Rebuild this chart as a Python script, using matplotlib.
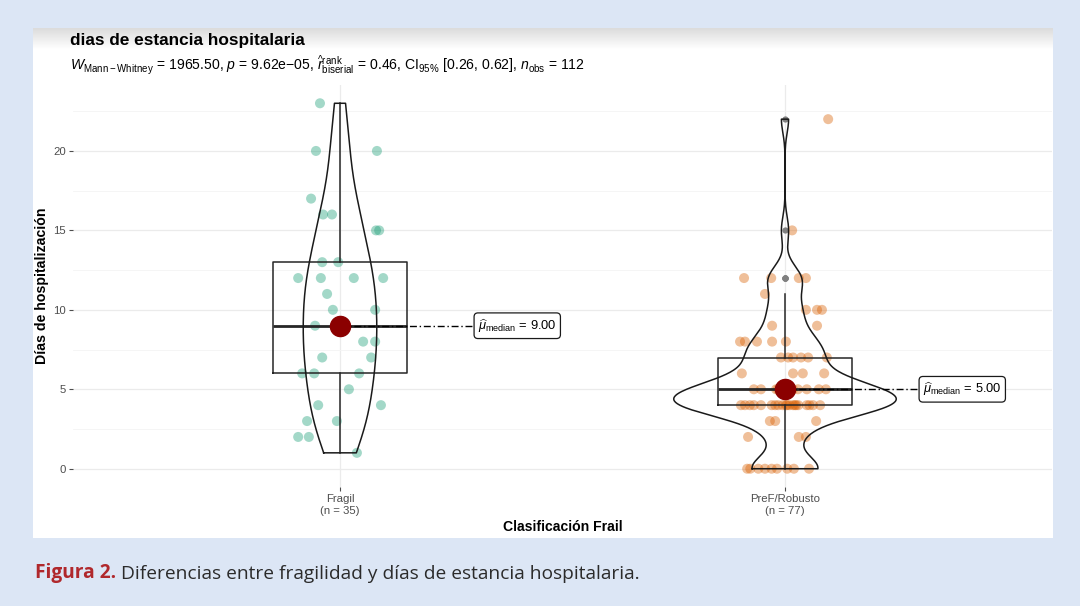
import numpy as np
import matplotlib.pyplot as plt

plt.rcParams['font.family'] = ['Liberation Sans', 'DejaVu Sans']
plt.rcParams['mathtext.fontset'] = 'custom'
plt.rcParams['mathtext.rm'] = 'Liberation Sans'
plt.rcParams['mathtext.it'] = 'Liberation Sans:italic'
plt.rcParams['mathtext.bf'] = 'Liberation Sans:bold'

# datos
grupos = ['Fragil', 'PreF/Robusto']
etiquetas_x = ['Fragil\n(n = 35)', 'PreF/Robusto\n(n = 77)']

fragil_dias = [23, 20, 20, 17, 16, 16, 15, 15, 13, 13, 12, 12, 12, 12, 11,
               10, 10, 9, 9, 9, 8, 8, 7, 7, 6, 6, 6, 5, 4, 4, 3, 3, 2, 2, 1]
fragil_jitter = [-0.045, -0.054, 0.083, -0.065, -0.038, -0.018, 0.081, 0.088,
                 -0.040, -0.004, -0.094, -0.043, 0.031, 0.097, -0.029,
                 -0.016, 0.079, -0.056, 0.0, 0.01, 0.052, 0.079, -0.040, 0.070,
                 -0.085, -0.058, 0.043, 0.020, -0.049, 0.092, -0.074, -0.007,
                 -0.094, -0.070, 0.038]

robusto_dias = ([22, 15] + [12] * 4 + [11] + [10] * 3 + [9] * 2 + [8] * 5
                + [7] * 6 + [6] * 4 + [5] * 15 + [4] * 20 + [3] * 3 + [2] * 3
                + [0] * 9)
robusto_jitter = [0.097, 0.016,
                  -0.092, -0.031, 0.031, 0.047,
                  -0.045,
                  0.047, 0.072, 0.083,
                  -0.029, 0.072,
                  -0.101, -0.090, -0.063, -0.029, 0.002,
                  -0.009, 0.007, 0.018, 0.036, 0.052, 0.094,
                  -0.097, 0.018, 0.040, 0.088,
                  -0.070, -0.054, 0.029, 0.049, 0.076, 0.092, -0.020, -0.012,
                  -0.005, 0.0, 0.006, 0.012, 0.018, -0.016, 0.003,
                  -0.099, -0.079, -0.054, -0.022, 0.002, 0.018, 0.022, 0.049,
                  0.063, 0.079, -0.090, -0.070, -0.030, -0.015,
                  -0.005, 0.005, 0.010, 0.025, 0.030, 0.055,
                  -0.034, -0.022, 0.070,
                  -0.083, 0.031, 0.047,
                  -0.085, -0.078, -0.060, -0.045, -0.030, -0.018, 0.005,
                  0.020, 0.054]

datos = [np.array(fragil_dias, float), np.array(robusto_dias, float)]
jitters = [np.array(fragil_jitter), np.array(robusto_jitter)]
colores = ['#1B9E77', '#D95F02']

subtitulo = (r'$W_{\mathrm{Mann-Whitney}}$ = 1965.50, $p$ = 9.62e$-$05, '
             r'$\widehat{r}_{\mathrm{biserial}}^{\mathrm{rank}}$ = 0.46, '
             r'CI$_{95\%}$ [0.26, 0.62], $n_{\mathrm{obs}}$ = 112')


def kde_nrd0(x, grid):
    # densidad gaussiana con el ancho de banda de R (bw.nrd0)
    q75, q25 = np.percentile(x, [75, 25])
    bw = 0.9 * min(x.std(ddof=1), (q75 - q25) / 1.34) * len(x) ** -0.2
    z = (grid[:, None] - x[None, :]) / bw
    return np.exp(-0.5 * z ** 2).sum(axis=1) / (len(x) * bw * np.sqrt(2 * np.pi))


fig = plt.figure(figsize=(10.8, 6.06), dpi=100)
fig.patch.set_facecolor('#dce6f5')

# panel blanco con sombra arriba
bg = fig.add_axes([33 / 1080, 68 / 606, 1020 / 1080, 510 / 606])
grad = np.ones((510, 1))
grad[:22, 0] = np.linspace(0.86, 1.0, 22)
bg.imshow(grad, aspect='auto', cmap='gray', vmin=0, vmax=1,
          extent=[0, 1, 0, 1], interpolation='bilinear')
bg.axis('off')

ax = fig.add_axes([73 / 1080, 1 - 487 / 606, 979 / 1080, 402 / 606])
ax.set_facecolor('none')

# puntos
for i, (y, jit) in enumerate(zip(datos, jitters)):
    ax.scatter(i + 1 + jit, y, s=52, color=colores[i], alpha=0.4,
               edgecolors='none', zorder=2)

# boxplot
ax.boxplot(datos, positions=[1, 2], widths=0.3, whis=1.5,
           boxprops=dict(color='#262626', lw=1.1),
           whiskerprops=dict(color='#262626', lw=1.1),
           capprops=dict(lw=0),
           medianprops=dict(color='#262626', lw=2.0),
           flierprops=dict(marker='o', markerfacecolor='#808080',
                           markeredgecolor='none', markersize=4.5),
           zorder=3)

# violines (escala por area, semiancho maximo 0.25)
grids, dens = [], []
for y in datos:
    g = np.linspace(y.min(), y.max(), 512)
    grids.append(g)
    dens.append(kde_nrd0(y, g))
dmax = max(d.max() for d in dens)
for i, (g, d) in enumerate(zip(grids, dens)):
    w = 0.25 * d / dmax
    xs = np.concatenate([i + 1 - w, (i + 1 + w)[::-1], [i + 1 - w[0]]])
    ys = np.concatenate([g, g[::-1], [g[0]]])
    ax.plot(xs, ys, color='#1a1a1a', lw=1.1, zorder=4)

# medianas y etiquetas
for i, y in enumerate(datos):
    med = np.median(y)
    ax.plot([i + 1, i + 1.3], [med, med], color='black', lw=1.0,
            ls=(0, (5, 2, 1, 2)), zorder=4)
    ax.scatter([i + 1], [med], s=210, color='#8B0000', zorder=5)
    ax.text(i + 1.31, med,
            r'$\widehat{\mu}_{\mathrm{median}}$ = %.2f' % med,
            fontsize=9.3, ha='left', va='center', zorder=6,
            bbox=dict(boxstyle='round,pad=0.3,rounding_size=0.3',
                      fc='white', ec='#1a1a1a', lw=0.9))

ax.set_xlim(0.4, 2.6)
ax.set_ylim(-1.15, 24.15)
ax.set_xticks([1, 2])
ax.set_xticklabels(etiquetas_x)
ax.set_yticks([0, 5, 10, 15, 20])
ax.set_yticks([2.5, 7.5, 12.5, 17.5, 22.5], minor=True)
ax.tick_params(axis='both', which='major', labelsize=8.2, colors='#4d4d4d',
               length=3, width=0.8, pad=2)
ax.tick_params(axis='y', which='minor', length=0)
ax.grid(True, which='major', color='#ebebeb', lw=0.9)
ax.grid(True, which='minor', axis='y', color='#f4f4f4', lw=0.6)
ax.set_axisbelow(True)
for s in ax.spines.values():
    s.set_visible(False)

fig.text(70 / 1080, 1 - 40 / 606, 'dias de estancia hospitalaria',
         fontsize=12.4, fontweight='bold', ha='left', va='center')
fig.text(70 / 1080, 1 - 65 / 606, subtitulo, fontsize=10.1,
         ha='left', va='center')
fig.text(42 / 1080, 1 - 286 / 606, 'Días de hospitalización', fontsize=10.2,
         fontweight='bold', rotation=90, ha='center', va='center')
fig.text(563 / 1080, 1 - 527 / 606, 'Clasificación Frail', fontsize=10.1,
         fontweight='bold', ha='center', va='center')

t1 = fig.text(35 / 1080, 1 - 583 / 606, 'Figura 2.', fontsize=13.8,
              fontweight='bold', color='#b0282c', family='Open Sans',
              ha='left', va='bottom')
plt.annotate(' Diferencias entre fragilidad y días de estancia hospitalaria.',
             xy=(1, 0), xycoords=t1, fontsize=13.8, color='#2b2b2b',
             family='Open Sans', ha='left', va='bottom')

fig.savefig('out.png', dpi=100, facecolor=fig.get_facecolor())
